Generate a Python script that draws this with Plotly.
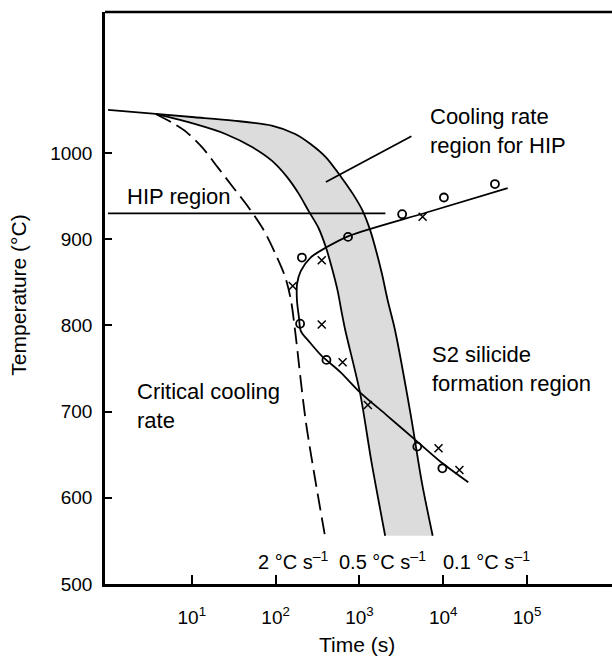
import math
import plotly.graph_objects as go

# ---------------- data (time in s, temperature in °C) ----------------
start_t = [1, 3.7]
start_T = [1050, 1045.3]

crit_t = [3.7, 5.7, 8.7, 13.3, 20.4, 31.2, 47.6, 72.9, 100, 131, 153, 171, 230, 391]
crit_T = [1045.3, 1035.7, 1024, 1006.6, 983.3, 960, 936.8, 909.7, 882.6, 855.4, 828.3, 793.4, 687.6, 554]

r05_t = [3.7, 10.8, 25.2, 53, 90, 138, 190, 247, 323, 399, 468, 550, 610, 676, 1016, 1396, 2028]
r05_T = [1045.3, 1033.7, 1022.1, 1006.6, 991.1, 971.7, 952.3, 932.9, 913.6, 890.3, 867.1, 840, 816.7, 795, 722, 641, 556]

r01_t = [3.7, 10.8, 31.2, 90, 171, 261, 399, 610, 839, 1094, 1352, 1585, 1862, 2183, 2642, 4046, 5559, 7482]
r01_T = [1045.3, 1041.5, 1037.6, 1031.8, 1022.1, 1010.5, 995, 971.7, 952.3, 932.9, 909.7, 886.4, 859.3, 828.3, 795.9, 699.2, 618, 556]

ccurve_t = [58750, 6310, 755, 399, 261, 200, 180, 180, 190, 200, 255, 352, 597, 1016, 2138, 4498, 9462, 19910]
ccurve_T = [959.3, 931, 903.9, 890.3, 878.7, 863.2, 847.7, 828.3, 808.9, 793.4, 780.5, 765, 745.6, 722.4, 695.4, 668.3, 641.2, 618]

circ_t = [3236, 10190, 41400, 731, 206, 196, 404, 4900, 9770]
circ_T = [929, 948.4, 964, 902.7, 878.7, 802, 760, 659.4, 634.2]

cross_t = [5680, 355, 160, 355, 630, 1260, 8790, 15600]
cross_T = [926, 875.6, 845.7, 801, 757.3, 707.7, 657.4, 632.3]

hip_t = [1, 2040]
hip_T = [930, 930]

pointer_t = [4170, 398]
pointer_T = [1019.5, 966.3]

x_tickvals = [10, 100, 1000, 10000, 100000]
x_ticktext = ["10<sup>1</sup>", "10<sup>2</sup>", "10<sup>3</sup>", "10<sup>4</sup>", "10<sup>5</sup>"]
y_tickvals = [500, 600, 700, 800, 900, 1000]

rate_labels = ["2 °C s<sup>–1</sup>", "0.5 °C s<sup>–1</sup>", "0.1 °C s<sup>–1</sup>"]
rate_label_t = [160, 1900, 33000]
rate_label_T = [527.8, 527.8, 527.8]

# ---------------- figure ----------------
FONT = "Liberation Sans, Arial, sans-serif"
fig = go.Figure()

line_style = dict(color="black", width=1.8, shape="spline", smoothing=0.8)

# shaded band between the 0.1 and 0.5 °C/s curves
fig.add_trace(go.Scatter(x=r01_t, y=r01_T, mode="lines", line=line_style, hoverinfo="skip"))
fig.add_trace(go.Scatter(x=r05_t, y=r05_T, mode="lines", line=line_style,
                         fill="tonexty", fillcolor="#dcdcdc", hoverinfo="skip"))

fig.add_trace(go.Scatter(x=start_t, y=start_T, mode="lines", line=line_style))
fig.add_trace(go.Scatter(x=crit_t, y=crit_T, mode="lines",
                         line=dict(color="black", width=1.8, shape="spline", smoothing=0.8, dash="17px,7px")))
fig.add_trace(go.Scatter(x=ccurve_t, y=ccurve_T, mode="lines", line=line_style))
fig.add_trace(go.Scatter(x=hip_t, y=hip_T, mode="lines", line=dict(color="black", width=1.8)))
fig.add_trace(go.Scatter(x=pointer_t, y=pointer_T, mode="lines", line=dict(color="black", width=1.8)))

fig.add_trace(go.Scatter(x=circ_t, y=circ_T, mode="markers",
                         marker=dict(symbol="circle-open", size=8, color="black", line=dict(width=1.8))))
fig.add_trace(go.Scatter(x=cross_t, y=cross_T, mode="markers",
                         marker=dict(symbol="x-thin-open", size=8, color="black", line=dict(width=1.5))))

ann_font = dict(family=FONT, size=22, color="black")
annotations = [
    dict(x=0.2, y=950, text="HIP region", xanchor="left"),
    dict(x=3.815, y=1025.5, text="Cooling rate<br>region for HIP", xanchor="left", align="left"),
    dict(x=3.84, y=749, text="S2 silicide<br>formation region", xanchor="left", align="left"),
    dict(x=0.32, y=706, text="Critical cooling<br>rate", xanchor="left", align="left"),
]
for a in annotations:
    a.update(font=ann_font)
for lab, t, T in zip(rate_labels, rate_label_t, rate_label_T):
    annotations.append(dict(x=math.log10(t), y=T, text=lab, xanchor="center",
                            font=dict(family=FONT, size=20, color="black")))
for a in annotations:
    a.update(xref="x", yref="y", showarrow=False, yanchor="middle")

annotations.append(dict(xref="paper", yref="paper", x=(18.5 - 105) / 507, y=0.505,
                        text="Temperature (°C)", textangle=-90, showarrow=False,
                        font=dict(family=FONT, size=21, color="black"),
                        xanchor="center", yanchor="middle"))
annotations.append(dict(xref="paper", yref="paper", x=0.497, y=-0.1066,
                        text="Time (s)", showarrow=False,
                        font=dict(family=FONT, size=21, color="black"),
                        xanchor="center", yanchor="middle"))

fig.update_layout(
    width=612, height=658,
    margin=dict(l=105, r=0, t=12, b=74),
    plot_bgcolor="white", paper_bgcolor="white",
    showlegend=False,
    font=dict(family=FONT, size=19, color="black"),
    annotations=annotations,
    shapes=[dict(type="line", xref="paper", yref="paper", x0=0, x1=1, y0=1, y1=1,
                 line=dict(color="black", width=2.5))],
    xaxis=dict(type="log", range=[-0.036, 6.014], tickvals=x_tickvals, ticktext=x_ticktext,
               ticks="inside", ticklen=9, tickwidth=2, tickcolor="black", ticklabelstandoff=14,
               showline=True, linewidth=2.5, linecolor="black", showgrid=False, zeroline=False),
    yaxis=dict(range=[500, 1163.6], tickvals=y_tickvals,
               ticks="inside", ticklen=7, tickwidth=2, tickcolor="black", ticklabelstandoff=6,
               showline=True, linewidth=2.5, linecolor="black", showgrid=False, zeroline=False),
)

fig.write_html("out.html")
